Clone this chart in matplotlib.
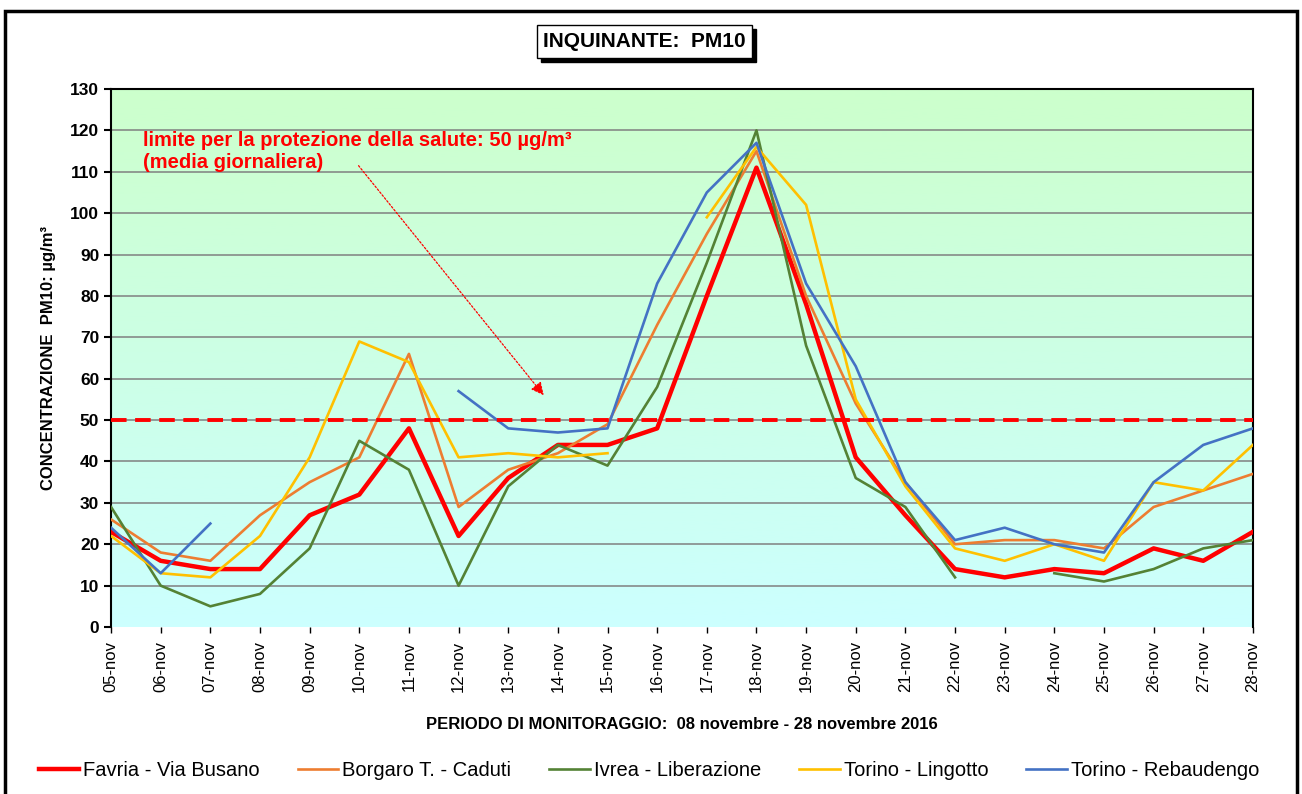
import numpy as np
import matplotlib
matplotlib.use("Agg")
import matplotlib.pyplot as plt
from matplotlib.patches import Rectangle

plt.rcParams['font.family'] = ['Liberation Sans', 'DejaVu Sans']

nan = np.nan
days = ["%02d-nov" % d for d in range(5, 29)]

favria = [23, 16, 14, 14, 27, 32, 48, 22, 36, 44, 44, 48, 80, 111, 78, 41, 27, 14, 12, 14, 13, 19, 16, 23]
borgaro = [26, 18, 16, 27, 35, 41, 66, 29, 38, 42, 49, 73, 95, 115, 80, 54, 35, 20, 21, 21, 19, 29, 33, 37]
ivrea = [29, 10, 5, 8, 19, 45, 38, 10, 34, 44, 39, 58, 88, 120, 68, 36, 29, 12, nan, 13, 11, 14, 19, 21]
lingotto = [22, 13, 12, 22, 41, 69, 64, 41, 42, 41, 42, nan, 99, 116, 102, 55, 34, 19, 16, 20, 16, 35, 33, 44]
rebaudengo = [24, 13, 25, nan, nan, nan, nan, 57, 48, 47, 48, 83, 105, 117, 83, 63, 35, 21, 24, 20, 18, 35, 44, 48]

series = [
    ("Favria - Via Busano", favria, "#FF0000", 3.2),
    ("Borgaro T. - Caduti", borgaro, "#ED7D31", 1.9),
    ("Ivrea - Liberazione", ivrea, "#548235", 1.9),
    ("Torino - Lingotto", lingotto, "#FFC000", 1.9),
    ("Torino - Rebaudengo", rebaudengo, "#4472C4", 1.9),
]
limit = 50

fig = plt.figure(figsize=(13.02, 7.94), dpi=100)
ax = fig.add_axes([0.0853, 0.2103, 0.877, 0.6776])

x = np.arange(len(days))
ax.set_xlim(0, len(days) - 1)
ax.set_ylim(0, 130)

# background gradient green -> cyan
grad = np.linspace(1, 0, 256).reshape(-1, 1)
top = np.array([0.80, 1.0, 0.80])
bot = np.array([0.80, 1.0, 1.0])
img = top * grad[..., None] + bot * (1 - grad[..., None])
ax.imshow(img, extent=[0, len(days) - 1, 0, 130], aspect='auto', zorder=0)

for yv in range(10, 130, 10):
    ax.axhline(yv, color="#808080", lw=1.1, zorder=1)

for name, vals, col, lw in series:
    ax.plot(x, vals, color=col, lw=lw, label=name, zorder=3)

ax.axhline(limit, color="#FF0000", lw=2.8, ls=(0, (4, 2.2)), zorder=4)

ax.set_xticks(x)
ax.set_xticklabels(days, rotation=90, fontsize=12)
ax.set_yticks(range(0, 131, 10))
ax.tick_params(axis='y', labelsize=12.5, length=5, width=1.5, direction='out')
ax.tick_params(axis='x', length=4, width=1, direction='out', pad=6)
for lab in ax.get_yticklabels():
    lab.set_fontweight('bold')
ax.spines['left'].set_linewidth(1.5)
ax.spines['top'].set_linewidth(1.5)
ax.spines['right'].set_linewidth(1.5)
ax.spines['bottom'].set_visible(False)

ax.set_ylabel("CONCENTRAZIONE  PM10: µg/m³", fontsize=12, fontweight='bold', labelpad=10)
ax.set_xlabel("PERIODO DI MONITORAGGIO:  08 novembre - 28 novembre 2016", fontsize=12,
              fontweight='bold', labelpad=18)

ax.text(0.64, 114.8, "limite per la protezione della salute: 50 µg/m³\n(media giornaliera)",
        color="#FF0000", fontsize=14.5, fontweight='bold', va='center', ha='left',
        linespacing=1.2, zorder=5)
ax.annotate("", xy=(8.75, 55.5), xytext=(4.95, 112),
            arrowprops=dict(arrowstyle="-|>", color="#FF0000", lw=0.9, ls=(0, (1.5, 1.5)),
                            mutation_scale=19), zorder=5)

leg = ax.legend(loc='upper center', bbox_to_anchor=(0.471, -0.215), ncol=5, frameon=False,
                fontsize=14.5, handlelength=2.0, handletextpad=0.2, columnspacing=1.9)

# title box with shadow
fig.patches.append(Rectangle((0.4155, 0.922), 0.165, 0.042, transform=fig.transFigure,
                             facecolor='black', edgecolor='black', zorder=1))
fig.patches.append(Rectangle((0.4125, 0.927), 0.165, 0.042, transform=fig.transFigure,
                             facecolor='white', edgecolor='black', lw=1, zorder=2))
fig.text(0.495, 0.948, "INQUINANTE:  PM10", ha='center', va='center', fontsize=15,
         fontweight='bold', zorder=3)

# figure frame
fig.patches.append(Rectangle((0.004, -0.01), 0.992, 0.996, transform=fig.transFigure,
                             facecolor='none', edgecolor='black', lw=2.5, zorder=0))

fig.savefig("out.png", dpi=100)
